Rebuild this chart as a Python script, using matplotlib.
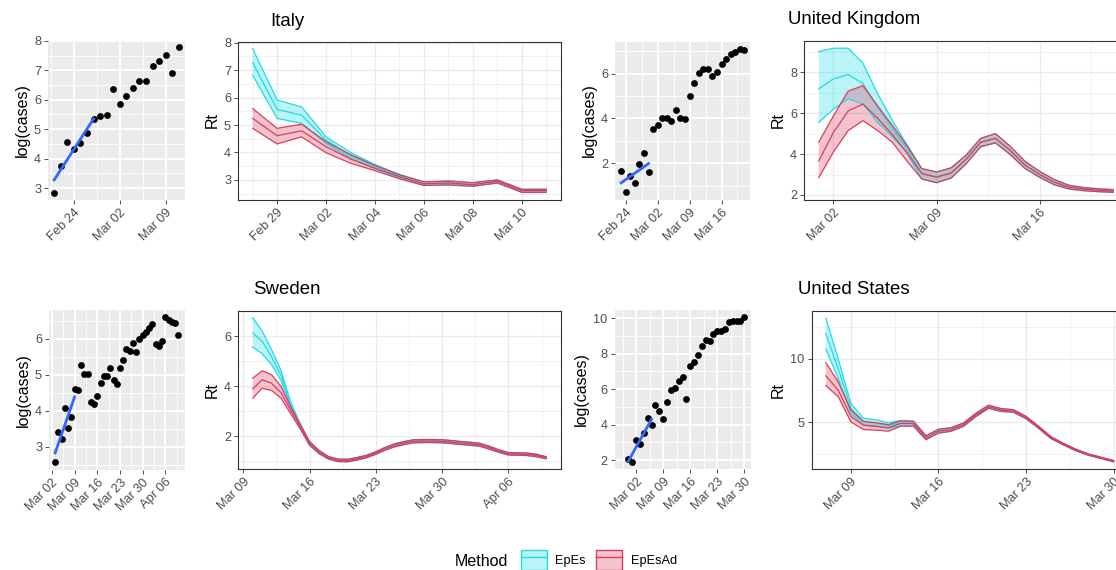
import matplotlib
matplotlib.use("Agg")
import matplotlib.pyplot as plt
import matplotlib.dates as mdates
from matplotlib.colors import to_rgba
from matplotlib.legend_handler import HandlerTuple
from matplotlib.lines import Line2D
from matplotlib.patches import Patch
from matplotlib.ticker import FixedLocator, MultipleLocator
import numpy as np
import pandas as pd

plt.rcParams["font.family"] = ["Liberation Sans", "DejaVu Sans"]

W, H = 1116, 570
CYAN = "#1FDCE3"
RED = "#DC3D5E"
FIT_BLUE = "#3366FF"

# ---- case counts (log scale) ----
italy_case_dates = pd.date_range("2020-02-21", "2020-03-11")
italy_cases = [2.84, 3.76, 4.55, 4.31, 4.54, 4.87, 5.33, 5.46, 5.48, 6.35,
               5.84, 6.14, 6.38, 6.65, 6.65, 7.14, 7.32, 7.51, 6.89, 7.78]

uk_case_dates = pd.date_range("2020-02-23", "2020-03-21")
uk_cases = [1.63, 0.70, 1.41, 1.11, 1.96, 2.47, 1.60, 3.51, 3.70, 4.00,
            4.00, 3.90, 4.37, 4.00, 3.97, 4.99, 5.56, 6.03, 6.22, 6.19,
            5.88, 6.07, 6.44, 6.67, 6.89, 6.96, 7.11, 7.07]

sweden_case_dates = pd.date_range("2020-03-03", "2020-04-10")
sweden_cases = [2.57, 3.41, 3.23, 4.09, 3.52, 3.83, 4.61, 4.59, 5.27, 5.01,
                5.01, 4.25, 4.20, 4.40, 4.77, 4.98, 4.96, 5.19, 4.86, 4.75,
                5.19, 5.42, 5.72, 5.65, 5.88, 5.63, 6.00, 6.12, 6.18, 6.30,
                6.40, 5.86, 5.80, 5.95, 6.60, 6.52, 6.47, 6.45, 6.12]

us_case_dates = pd.date_range("2020-02-29", "2020-03-30")
us_cases = [2.09, 1.91, 3.13, 2.93, 3.51, 4.38, 3.97, 5.13, 4.75, 4.33,
            5.26, 5.93, 6.06, 6.48, 6.67, 5.46, 7.30, 7.51, 7.92, 8.42,
            8.79, 8.70, 9.13, 9.31, 9.27, 9.40, 9.78, 9.87, 9.87, 9.87, 10.06]
us_case_scale_start = "2020-02-27"

# ---- Rt estimates ----
italy_rt_dates = pd.date_range("2020-02-28", "2020-03-11")
italy_epes_hi = [7.78, 5.91, 5.66, 4.57, 4.00, 3.56, 3.20, 2.93, 2.96, 2.90, 3.00, 2.66, 2.66]
italy_epes_mid = [7.27, 5.57, 5.36, 4.45, 3.89, 3.48, 3.14, 2.86, 2.89, 2.83, 2.95, 2.61, 2.61]
italy_epes_lo = [6.81, 5.24, 5.06, 4.33, 3.79, 3.42, 3.07, 2.80, 2.82, 2.77, 2.89, 2.55, 2.55]
italy_ad_hi = [5.60, 4.88, 5.03, 4.39, 3.92, 3.53, 3.19, 2.93, 2.96, 2.90, 3.00, 2.66, 2.66]
italy_ad_mid = [5.24, 4.61, 4.79, 4.21, 3.76, 3.42, 3.12, 2.86, 2.89, 2.83, 2.95, 2.61, 2.61]
italy_ad_lo = [4.88, 4.31, 4.57, 3.99, 3.61, 3.34, 3.04, 2.80, 2.82, 2.77, 2.89, 2.55, 2.55]

uk_rt_dates = pd.date_range("2020-03-01", "2020-03-21")
uk_epes_hi = [9.02, 9.18, 9.18, 8.45, 6.95, 5.65, 4.45, 3.29, 3.12, 3.33, 3.94,
              4.77, 5.00, 4.38, 3.65, 3.15, 2.75, 2.47, 2.36, 2.30, 2.26]
uk_epes_mid = [7.19, 7.68, 7.89, 7.45, 6.30, 5.25, 4.25, 3.05, 2.87, 3.08, 3.74,
               4.58, 4.77, 4.18, 3.47, 3.00, 2.62, 2.38, 2.29, 2.23, 2.19]
uk_epes_lo = [5.55, 6.19, 6.71, 6.45, 5.55, 4.85, 4.05, 2.78, 2.60, 2.83, 3.52,
              4.36, 4.55, 3.98, 3.30, 2.86, 2.50, 2.29, 2.21, 2.16, 2.13]
uk_ad_hi = [4.58, 5.87, 7.08, 7.35, 6.35, 5.40, 4.40, 3.29, 3.12, 3.33, 3.94,
            4.77, 5.00, 4.38, 3.65, 3.15, 2.75, 2.47, 2.36, 2.30, 2.26]
uk_ad_mid = [3.66, 5.06, 6.11, 6.45, 5.75, 4.95, 4.05, 3.05, 2.87, 3.08, 3.74,
             4.58, 4.77, 4.18, 3.47, 3.00, 2.62, 2.38, 2.29, 2.23, 2.19]
uk_ad_lo = [2.84, 4.10, 5.15, 5.63, 5.15, 4.58, 3.65, 2.78, 2.60, 2.83, 3.52,
            4.36, 4.55, 3.98, 3.30, 2.86, 2.50, 2.29, 2.21, 2.16, 2.13]

sweden_rt_dates = pd.date_range("2020-03-10", "2020-04-10")
sweden_epes_hi = [6.74, 6.20, 5.46, 4.62, 3.38, 2.52, 1.79, 1.43, 1.19, 1.09, 1.08,
                  1.15, 1.24, 1.38, 1.56, 1.70, 1.79, 1.86, 1.87, 1.87, 1.86, 1.83,
                  1.79, 1.76, 1.72, 1.60, 1.46, 1.35, 1.34, 1.33, 1.28, 1.18]
sweden_epes_mid = [6.13, 5.80, 5.17, 4.42, 3.28, 2.44, 1.72, 1.37, 1.14, 1.04, 1.03,
                   1.10, 1.19, 1.33, 1.50, 1.64, 1.73, 1.80, 1.81, 1.81, 1.80, 1.77,
                   1.73, 1.70, 1.66, 1.54, 1.41, 1.30, 1.29, 1.28, 1.23, 1.14]
sweden_epes_lo = [5.57, 5.30, 4.86, 4.22, 3.18, 2.36, 1.65, 1.31, 1.09, 0.99, 0.98,
                  1.05, 1.14, 1.28, 1.45, 1.58, 1.67, 1.74, 1.75, 1.75, 1.74, 1.71,
                  1.67, 1.64, 1.60, 1.48, 1.36, 1.25, 1.24, 1.23, 1.18, 1.10]
sweden_ad_hi = [4.32, 4.62, 4.46, 3.99, 3.18, 2.49, 1.79, 1.43, 1.19, 1.09, 1.08,
                1.15, 1.24, 1.38, 1.56, 1.70, 1.79, 1.86, 1.87, 1.87, 1.86, 1.83,
                1.79, 1.76, 1.72, 1.60, 1.46, 1.35, 1.34, 1.33, 1.28, 1.18]
sweden_ad_mid = [3.89, 4.26, 4.12, 3.74, 3.05, 2.40, 1.72, 1.37, 1.14, 1.04, 1.03,
                 1.10, 1.19, 1.33, 1.50, 1.64, 1.73, 1.80, 1.81, 1.81, 1.80, 1.77,
                 1.73, 1.70, 1.66, 1.54, 1.41, 1.30, 1.29, 1.28, 1.23, 1.14]
sweden_ad_lo = [3.52, 3.92, 3.83, 3.52, 2.91, 2.31, 1.65, 1.31, 1.09, 0.99, 0.98,
                1.05, 1.14, 1.28, 1.45, 1.58, 1.67, 1.74, 1.75, 1.75, 1.74, 1.71,
                1.67, 1.64, 1.60, 1.48, 1.36, 1.25, 1.24, 1.23, 1.18, 1.10]

us_rt_dates = pd.date_range("2020-03-07", "2020-03-30")
us_epes_hi = [13.16, 9.92, 6.48, 5.33, 5.20, 4.97, 5.15, 5.10, 3.95, 4.46, 4.58, 4.95,
              5.72, 6.34, 6.08, 5.99, 5.47, 4.70, 3.87, 3.35, 2.89, 2.52, 2.27, 2.01]
us_epes_mid = [11.96, 9.16, 6.10, 5.08, 4.95, 4.75, 4.95, 4.92, 3.80, 4.31, 4.44, 4.82,
               5.59, 6.22, 5.97, 5.89, 5.38, 4.62, 3.80, 3.29, 2.83, 2.47, 2.22, 1.96]
us_epes_lo = [10.74, 8.39, 5.71, 4.82, 4.69, 4.53, 4.74, 4.72, 3.64, 4.16, 4.30, 4.69,
              5.46, 6.10, 5.86, 5.79, 5.29, 4.54, 3.73, 3.23, 2.77, 2.42, 2.17, 1.91]
us_ad_hi = [9.67, 8.14, 5.97, 5.08, 4.97, 4.82, 5.12, 5.08, 3.95, 4.46, 4.58, 4.95,
            5.72, 6.34, 6.08, 5.99, 5.47, 4.70, 3.87, 3.35, 2.89, 2.52, 2.27, 2.01]
us_ad_mid = [8.65, 7.50, 5.46, 4.77, 4.69, 4.57, 4.92, 4.90, 3.80, 4.31, 4.44, 4.82,
             5.59, 6.22, 5.97, 5.89, 5.38, 4.62, 3.80, 3.29, 2.83, 2.47, 2.22, 1.96]
us_ad_lo = [7.88, 6.99, 5.03, 4.44, 4.39, 4.31, 4.70, 4.70, 3.64, 4.16, 4.30, 4.69,
            5.46, 6.10, 5.86, 5.79, 5.29, 4.54, 3.73, 3.23, 2.77, 2.42, 2.17, 1.91]

countries = ["Italy", "United Kingdom", "Sweden", "United States"]
methods = ["EpEs", "EpEsAd"]


def px_rect(l, t, r, b):
    return [l / W, 1 - b / H, (r - l) / W, (b - t) / H]


def expand(lo, hi, mult=0.05):
    span = hi - lo
    return lo - mult * span, hi + mult * span


def style_axis(ax, xticks, ystep, grid_color, major_lw, minor_lw):
    majors = mdates.date2num(pd.to_datetime(xticks))
    step = majors[1] - majors[0]
    ext = np.concatenate([[majors[0] - step], majors, [majors[-1] + step]])
    ax.xaxis.set_major_locator(FixedLocator(majors))
    ax.xaxis.set_minor_locator(FixedLocator((ext[:-1] + ext[1:]) / 2))
    ax.xaxis.set_major_formatter(mdates.DateFormatter("%b %d"))
    ax.yaxis.set_major_locator(MultipleLocator(ystep))
    ax.yaxis.set_minor_locator(MultipleLocator(ystep / 2))
    ax.tick_params(which="major", length=2.75, width=0.6, color="#333333",
                   labelcolor="#4D4D4D", labelsize=9.2, pad=2.2)
    ax.tick_params(which="minor", length=0)
    plt.setp(ax.get_xticklabels(), rotation=45, ha="right", rotation_mode="anchor")
    ax.grid(which="major", color=grid_color, lw=major_lw)
    ax.grid(which="minor", color=grid_color, lw=minor_lw)
    ax.set_axisbelow(True)


def case_panel(fig, rect, dates, vals, xticks, ystep, scale_start=None):
    ax = fig.add_axes(px_rect(*rect))
    ax.set_facecolor("#EBEBEB")
    x = mdates.date2num(dates)
    y = np.asarray(vals)
    ax.scatter(x, y, s=24, color="black", linewidths=0, zorder=3)
    # linear fit over the first week
    t = x[:7] - x[0]
    coef = np.polyfit(t, y[:7], 1)
    ax.plot(x[:7], np.polyval(coef, t), color=FIT_BLUE, lw=2.0, zorder=4)
    x0 = mdates.date2num(pd.Timestamp(scale_start)) if scale_start else x[0]
    ax.set_xlim(*expand(x0, x[-1]))
    ax.set_ylim(*expand(y.min(), y.max()))
    for s in ax.spines.values():
        s.set_visible(False)
    style_axis(ax, xticks, ystep, "white", 1.3, 0.6)
    ax.set_ylabel("log(cases)", fontsize=11.5, color="black", labelpad=3)
    return ax


def rt_panel(fig, rect, dates, epes, ad, xticks, ystep):
    ax = fig.add_axes(px_rect(*rect))
    x = mdates.date2num(dates)
    for (hi, mid, lo), col in zip([epes, ad], [CYAN, RED]):
        ax.fill_between(x, lo, hi, facecolor=to_rgba(col, 0.3), lw=0)
        for series in (hi, mid, lo):
            ax.plot(x, series, color=col, lw=0.9)
    ymin = min(min(epes[2]), min(ad[2]))
    ymax = max(max(epes[0]), max(ad[0]))
    ax.set_xlim(*expand(x[0], x[-1]))
    ax.set_ylim(*expand(ymin, ymax))
    for s in ax.spines.values():
        s.set_color("#333333")
        s.set_linewidth(0.8)
    style_axis(ax, xticks, ystep, "#EBEBEB", 1.0, 0.5)
    ax.set_ylabel("Rt", fontsize=11.5, color="black", labelpad=3)
    return ax


fig = plt.figure(figsize=(W / 100, H / 100), dpi=100)

case_panel(fig, (48, 40, 185, 200), italy_case_dates, italy_cases,
           ["2020-02-24", "2020-03-02", "2020-03-09"], 1)
rt_panel(fig, (238, 41.5, 561, 199.5), italy_rt_dates,
         (italy_epes_hi, italy_epes_mid, italy_epes_lo),
         (italy_ad_hi, italy_ad_mid, italy_ad_lo),
         ["2020-02-29", "2020-03-02", "2020-03-04", "2020-03-06", "2020-03-08", "2020-03-10"], 1)

case_panel(fig, (615, 41.5, 750.5, 199.5), uk_case_dates, uk_cases,
           ["2020-02-24", "2020-03-02", "2020-03-09", "2020-03-16"], 2)
rt_panel(fig, (804, 41, 1128, 199.5), uk_rt_dates,
         (uk_epes_hi, uk_epes_mid, uk_epes_lo),
         (uk_ad_hi, uk_ad_mid, uk_ad_lo),
         ["2020-03-02", "2020-03-09", "2020-03-16", "2020-03-23"], 2)

case_panel(fig, (49, 310, 184.5, 469.5), sweden_case_dates, sweden_cases,
           ["2020-03-02", "2020-03-09", "2020-03-16", "2020-03-23", "2020-03-30", "2020-04-06"], 1)
rt_panel(fig, (238, 310.5, 561, 469), sweden_rt_dates,
         (sweden_epes_hi, sweden_epes_mid, sweden_epes_lo),
         (sweden_ad_hi, sweden_ad_mid, sweden_ad_lo),
         ["2020-03-09", "2020-03-16", "2020-03-23", "2020-03-30", "2020-04-06"], 2)

case_panel(fig, (614.5, 310, 750.5, 469), us_case_dates, us_cases,
           ["2020-03-02", "2020-03-09", "2020-03-16", "2020-03-23", "2020-03-30"], 2,
           scale_start=us_case_scale_start)
rt_panel(fig, (811.5, 311, 1128, 469), us_rt_dates,
         (us_epes_hi, us_epes_mid, us_epes_lo),
         (us_ad_hi, us_ad_mid, us_ad_lo),
         ["2020-03-09", "2020-03-16", "2020-03-23", "2020-03-30"], 5)

# panel titles
for name, (cx, cy) in zip(countries, [(287, 21), (854, 20), (287, 290), (854, 290)]):
    fig.text(cx / W, 1 - cy / H, name, ha="center", va="center", fontsize=13.4, color="black")

# legend
fig.text(455 / W, 1 - 561 / H, "Method", ha="left", va="center", fontsize=11.5)
handles = [(Patch(facecolor=to_rgba(c, 0.3), edgecolor=c, lw=1.0), Line2D([], [], color=c, lw=1.0))
           for c in (CYAN, RED)]
fig.legend(handles, methods, handler_map={tuple: HandlerTuple(ndivide=1)},
           loc="center left", bbox_to_anchor=(521 / W, 1 - 560 / H), ncol=2,
           frameon=False, fontsize=9.2, handlelength=2.0, handleheight=2.0,
           handletextpad=0.7, columnspacing=0.8, borderpad=0, borderaxespad=0)

fig.savefig("out.png", dpi=100)
